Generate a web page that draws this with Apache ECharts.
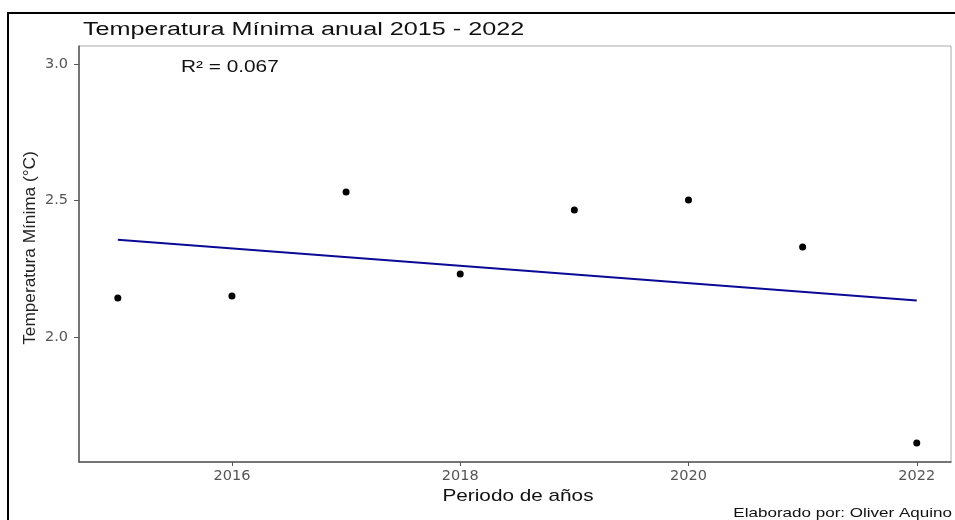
<!DOCTYPE html>
<html>
<head>
<meta charset="utf-8">
<script src="https://cdn.jsdelivr.net/npm/echarts@6/dist/echarts.min.js"></script>
<style>html,body{margin:0;padding:0;background:#fff}#c{width:955px;height:520px}</style>
</head>
<body>
<div id="c"></div>
<script>
var years = [2015, 2016, 2017, 2018, 2019, 2020, 2021, 2022];
var tmin = [2.143, 2.150, 2.531, 2.231, 2.465, 2.502, 2.330, 1.612];
var trendYears = [2015, 2022];
var trendValues = [2.356, 2.134];
var xTicks = [2016, 2018, 2020, 2022];
var yTicks = [2.0, 2.5, 3.0];
var titleText = 'Temperatura Mínima anual 2015 - 2022';
var r2Text = 'R² = 0.067';
var xName = 'Periodo de años';
var yName = 'Temperatura Mínima (°C)';
var footerText = 'Elaborado por: Oliver Aquino';

var chart = echarts.init(document.getElementById('c'), null, {renderer: 'canvas'});
var font = '"Liberation Sans", Arial, sans-serif';
chart.setOption({
  animation: false,
  backgroundColor: '#fff',
  grid: {left: 79, right: 4, top: 46, bottom: 58, show: true, borderColor: '#aaa', borderWidth: 1, backgroundColor: '#fff'},
  xAxis: {
    type: 'value', min: 2014.66, max: 2022.3,
    axisLine: {show: true, onZero: false, lineStyle: {color: '#555', width: 1.5}},
    axisTick: {show: true, length: 4, customValues: xTicks, lineStyle: {color: '#555'}},
    axisLabel: {customValues: xTicks, fontFamily: '"DejaVu Sans", sans-serif', fontSize: 14.5, color: '#555', margin: 7,
      formatter: function (v) { return String(v); }},
    splitLine: {show: false}
  },
  yAxis: {
    type: 'value', min: 1.542, max: 3.066,
    axisLine: {show: true, onZero: false, lineStyle: {color: '#555', width: 1.5}},
    axisTick: {show: true, length: 5, customValues: yTicks, lineStyle: {color: '#555'}},
    axisLabel: {customValues: yTicks, fontFamily: '"DejaVu Sans", sans-serif', fontSize: 14.5, color: '#555', margin: 11,
      formatter: function (v) { return v.toFixed(1); }},
    splitLine: {show: false}
  },
  series: [
    {
      type: 'line', data: trendYears.map(function (x, i) { return [x, trendValues[i]]; }),
      showSymbol: false, lineStyle: {color: '#0a0a96', width: 2}, z: 2
    },
    {
      type: 'scatter', data: years.map(function (x, i) { return [x, tmin[i]]; }),
      symbol: 'circle', symbolSize: 7, itemStyle: {color: '#000', opacity: 1}, z: 3
    }
  ],
  graphic: [
    {type: 'rect', shape: {x: 8, y: 13, width: 1000, height: 600}, style: {fill: 'none', stroke: '#000', lineWidth: 2}, silent: true, z: 100},
    {type: 'text', x: 83, y: 30, scaleX: 1.4, style: {text: titleText, font: '18px ' + font, fill: '#111', verticalAlign: 'middle'}, z: 100},
    {type: 'text', x: 181, y: 68, scaleX: 1.3, style: {text: r2Text, font: '16px ' + font, fill: '#111', verticalAlign: 'middle'}, z: 100},
    {type: 'text', x: 518, y: 496, scaleX: 1.22, style: {text: xName, font: '17px ' + font, fill: '#111', align: 'center', verticalAlign: 'middle'}, z: 100},
    {type: 'text', x: 30, y: 248, rotation: Math.PI / 2, scaleX: 1.23, scaleY: 1.2, style: {text: yName, font: '14px ' + font, fill: '#222', align: 'center', verticalAlign: 'middle'}, z: 100},
    {type: 'text', x: 952, y: 513, scaleX: 1.31, style: {text: footerText, font: '13px ' + font, fill: '#111', align: 'right', verticalAlign: 'middle'}, z: 100}
  ]
});
</script>
</body>
</html>
